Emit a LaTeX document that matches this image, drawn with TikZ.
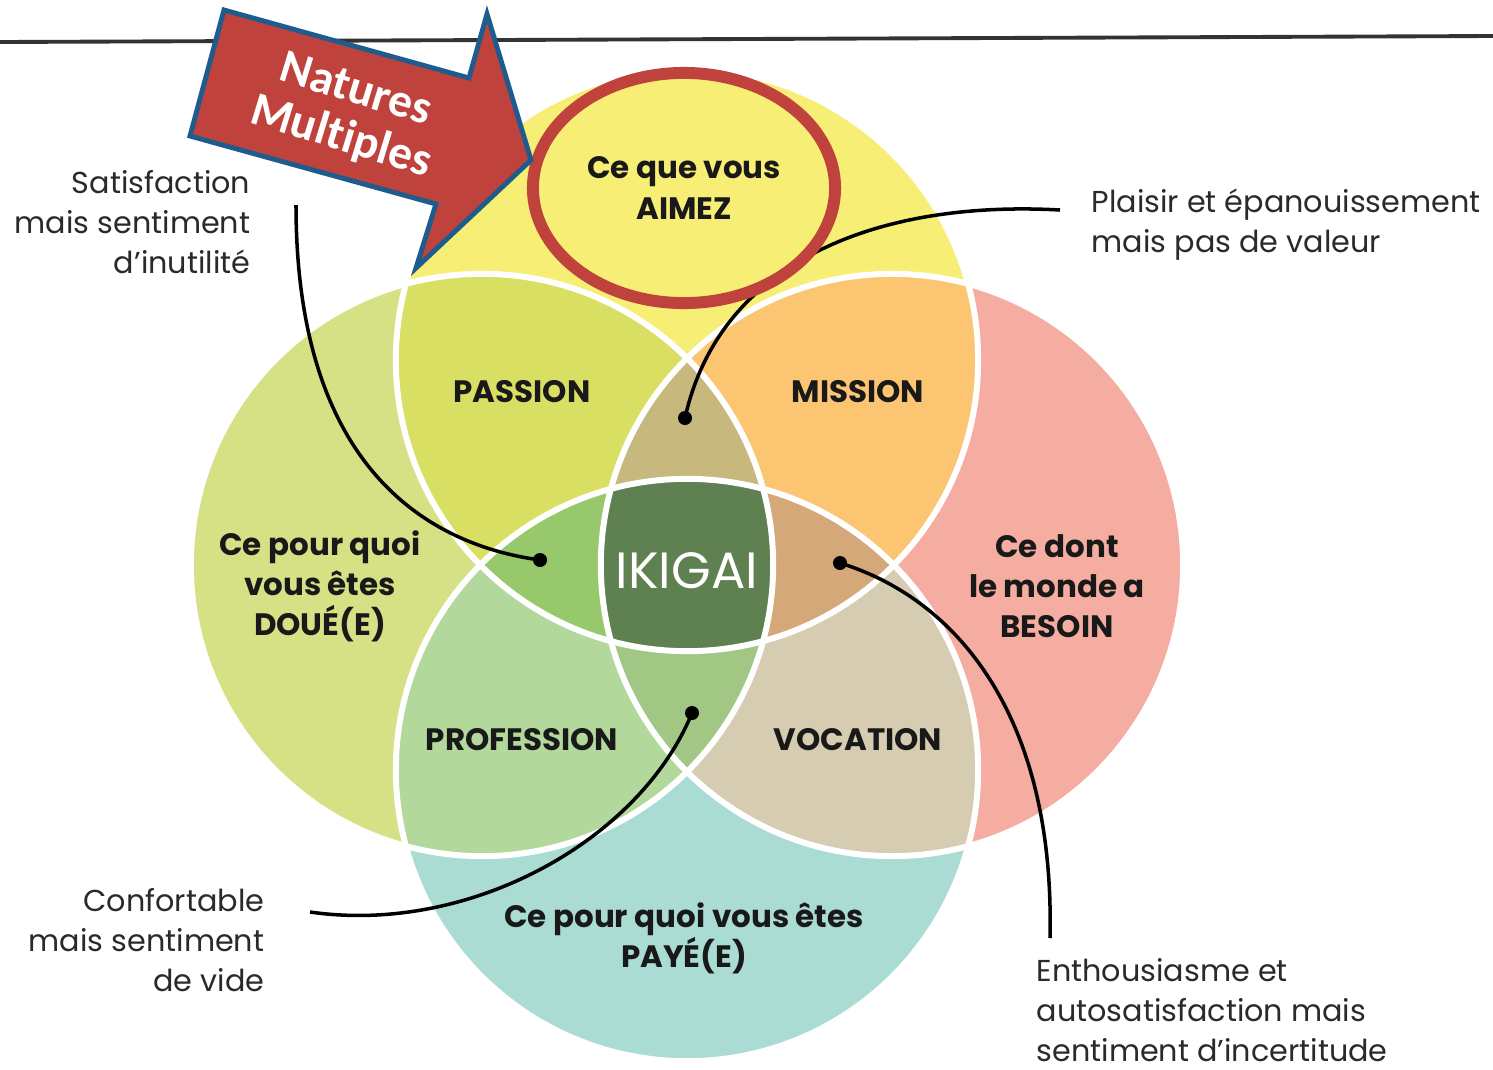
\documentclass[tikz,border=0pt]{standalone}
\usepackage{fontspec}
\setmainfont{Poppins}
\newfontfamily\arrowfont[Ligatures=NoCommon]{Carlito}
\definecolor{cY}{HTML}{F7EE75}
\definecolor{cL}{HTML}{D6E186}
\definecolor{cR}{HTML}{F4ADA0}
\definecolor{cB}{HTML}{ABDCD4}
\definecolor{cPas}{HTML}{D8DF63}
\definecolor{cMis}{HTML}{FCC572}
\definecolor{cPro}{HTML}{B3D89B}
\definecolor{cVoc}{HTML}{D6CCB2}
\definecolor{cTL}{HTML}{C7B87E}
\definecolor{cLS}{HTML}{98C86C}
\definecolor{cRS}{HTML}{D4A878}
\definecolor{cBS}{HTML}{A2C684}
\definecolor{cC}{HTML}{5F8050}
\definecolor{cRed}{HTML}{BF423D}
\definecolor{cBlue}{HTML}{1F5C8E}
\definecolor{cTxt}{HTML}{2A2A2A}
\begin{document}
\begin{tikzpicture}[x=0.01cm,y=-0.01cm,
  ann/.style={font=\fontsize{8.6}{11.4}\selectfont, text=cTxt, inner sep=0pt},
  lab/.style={font=\fontsize{8.8}{11.4}\selectfont\bfseries, text=black!90, align=center, inner sep=0pt},
  conn/.style={line width=1pt, black},
  dotn/.style={circle, fill=black, inner sep=0pt, minimum size=0.14cm},
  ring/.style={draw=white, line width=1.7pt},
  rad/.style={radius=2.91cm}
]
\useasboundingbox (0,0) rectangle (1493,1069);
\fill[white] (0,0) rectangle (1493,1069);
% centres
\coordinate (cT) at (687,360);
\coordinate (cL) at (482,565);
\coordinate (cR) at (892,565);
\coordinate (cB) at (687,770);
% base fills
\fill[cY] (cT) circle[rad];
\fill[cL] (cL) circle[rad];
\fill[cR] (cR) circle[rad];
\fill[cB] (cB) circle[rad];
% pairs
\begin{scope}
  \clip (cT) circle[rad];
  \fill[cPas] (cL) circle[rad];
  \fill[cMis] (cR) circle[rad];
\end{scope}
\begin{scope}
  \clip (cB) circle[rad];
  \fill[cPro] (cL) circle[rad];
  \fill[cVoc] (cR) circle[rad];
\end{scope}
% triples
\begin{scope}
  \clip (cT) circle[rad]; \clip (cL) circle[rad];
  \fill[cTL] (cR) circle[rad];
\end{scope}
\begin{scope}
  \clip (cT) circle[rad]; \clip (cL) circle[rad];
  \fill[cLS] (cB) circle[rad];
\end{scope}
\begin{scope}
  \clip (cT) circle[rad]; \clip (cR) circle[rad];
  \fill[cRS] (cB) circle[rad];
\end{scope}
\begin{scope}
  \clip (cB) circle[rad]; \clip (cL) circle[rad];
  \fill[cBS] (cR) circle[rad];
\end{scope}
\begin{scope}
  \clip (cT) circle[rad]; \clip (cL) circle[rad]; \clip (cR) circle[rad];
  \fill[cC] (cB) circle[rad];
\end{scope}
% white rings
\draw[ring] (cT) circle[rad];
\draw[ring] (cL) circle[rad];
\draw[ring] (cR) circle[rad];
\draw[ring] (cB) circle[rad];

% labels in circles
\node[lab] (aimez) at (684,188) {Ce que vous\\AIMEZ};
\node[lab] (passion) at (522,392) {PASSION};
\node[lab] (mission) at (858,392) {MISSION};
\node[lab] (profession) at (522,740) {PROFESSION};
\node[lab] (vocation) at (858,740) {VOCATION};
\node[lab] (doue) at (320,586) {Ce pour quoi\\vous êtes\\DOUÉ(E)};
\node[lab] (besoin) at (1057,586) {Ce dont\\le monde a\\BESOIN};
\node[lab] (paye) at (684,938) {Ce pour quoi vous êtes\\PAYÉ(E)};
\node[font=\fontsize{14.5}{16}\selectfont, text=white, inner sep=0pt] (ikigai) at (687,571) {IKIGAI};

% annotations
\node[ann, anchor=east, align=right] (satis) at (251,222) {Satisfaction\\mais sentiment\\d’inutilité};
\node[ann, anchor=west, align=left] (plaisir) at (1091,225) {Plaisir et épanouissement\\mais pas de valeur};
\node[ann, anchor=east, align=right] (confort) at (265,940) {Confortable\\mais sentiment\\de vide};
\node[ann, anchor=west, align=left] (enthou) at (1036,1010) {Enthousiasme et\\autosatisfaction mais\\sentiment d’incertitude};

% connector dots and starts
\node[dotn] (d1) at (540,560) {};
\node[dotn] (d2) at (685,418) {};
\node[dotn] (d3) at (692,713) {};
\node[dotn] (d4) at (840,563) {};
\coordinate (s1) at (296,205);
\coordinate (s2) at (1060,210);
\coordinate (s3) at (310,912);
\coordinate (s4) at (1050,938);
\draw[conn] (s1) .. controls (296,470) and (430,545) .. (d1.center);
\draw[conn] (s2) .. controls (880,200) and (720,260) .. (d2.center);
\draw[conn] (s3) .. controls (470,935) and (640,840) .. (d3.center);
\draw[conn] (s4) .. controls (1055,720) and (960,600) .. (d4.center);

% top rule
\coordinate (r1) at (0,42);
\coordinate (r2) at (1493,36);
\draw[line width=1.1pt, black!80] (r1) -- (r2);

% red ellipse
\draw[cRed, line width=3.4pt] (aimez.center) ellipse[x radius=1.51cm, y radius=1.15cm];

% block arrow
\draw[fill=cRed, draw=cBlue, line width=1.4pt, line join=miter]
  (224,10) -- (469,78) -- (487,14) -- (531,160) -- (416,268) -- (436,204) -- (190,136) -- cycle;
\node[font=\arrowfont\bfseries\fontsize{13.5}{14}\selectfont, text=white, rotate=-17, inner sep=0pt, align=center] (nat) at (348,115) {Natures\\Multiples};
\end{tikzpicture}
\end{document}
